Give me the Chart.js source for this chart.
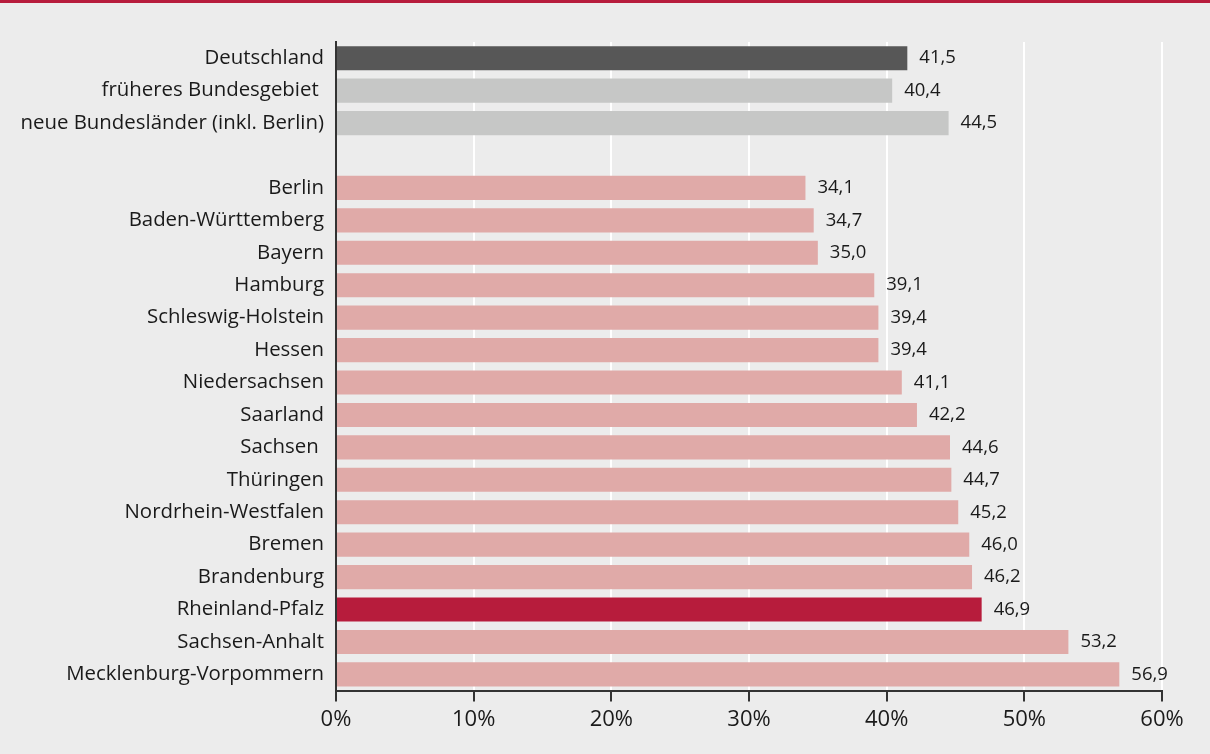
<!DOCTYPE html>
<html lang="de">
<head>
<meta charset="utf-8">
<title>Anteil nach Ländern</title>
<script src="https://cdn.jsdelivr.net/npm/chart.js@4/dist/chart.umd.min.js"></script>
<style>
  html, body { margin: 0; padding: 0; background: #ececec; }
  #wrap { width: 1210px; height: 754px; box-sizing: border-box; border-top: 3px solid #b71c3c; background: #ececec; }
  #chart { display: block; }
</style>
</head>
<body>
<div id="wrap"><canvas id="chart" width="1210" height="751"></canvas></div>
<script>
// Kategorien (leerer Eintrag = Abstand zwischen Bund und Ländern)
const gebiete = [
  "Deutschland",
  "früheres Bundesgebiet ",
  "neue Bundesländer (inkl. Berlin)",
  "",
  "Berlin",
  "Baden-Württemberg",
  "Bayern",
  "Hamburg",
  "Schleswig-Holstein",
  "Hessen",
  "Niedersachsen",
  "Saarland",
  "Sachsen ",
  "Thüringen",
  "Nordrhein-Westfalen",
  "Bremen",
  "Brandenburg",
  "Rheinland-Pfalz",
  "Sachsen-Anhalt",
  "Mecklenburg-Vorpommern"
];

// Werte in Prozent
const anteile = [
  41.5, 40.4, 44.5, null,
  34.1, 34.7, 35.0, 39.1, 39.4, 39.4, 41.1, 42.2,
  44.6, 44.7, 45.2, 46.0, 46.2, 46.9, 53.2, 56.9
];

// Achsenbeschriftung
const xTicks = [0, 10, 20, 30, 40, 50, 60];

// Farbgruppen: bund, west/ost, land, rlp
const gruppen = [
  "bund", "teil", "teil", "leer",
  "land", "land", "land", "land", "land", "land", "land", "land",
  "land", "land", "land", "land", "land", "rlp", "land", "land"
];

const farben = {
  bund: "#575757",
  teil: "#c6c7c6",
  land: "#e0aaa8",
  rlp: "#b71c3c",
  leer: "rgba(0,0,0,0)"
};

const schrift = "'Open Sans', 'Noto Sans', sans-serif";
const textFarbe = "#1a1a1a";

// Wert rechts neben dem Balken, mit Dezimalkomma
const wertLabels = {
  id: "wertLabels",
  afterDatasetsDraw(chart) {
    const ctx = chart.ctx;
    const meta = chart.getDatasetMeta(0);
    ctx.save();
    ctx.font = "18.5px " + schrift;
    ctx.fillStyle = textFarbe;
    ctx.textAlign = "left";
    ctx.textBaseline = "middle";
    meta.data.forEach((bar, i) => {
      const v = anteile[i];
      if (v === null) return;
      ctx.fillText(v.toFixed(1).replace(".", ","), bar.x + 12, bar.y);
    });
    ctx.restore();
  }
};

new Chart(document.getElementById("chart"), {
  type: "bar",
  data: {
    labels: gebiete,
    datasets: [{
      data: anteile,
      backgroundColor: gruppen.map(g => farben[g]),
      borderWidth: 0,
      barPercentage: 0.8,
      categoryPercentage: 0.93
    }]
  },
  options: {
    indexAxis: "y",
    responsive: false,
    animation: false,
    layout: { padding: { top: 39, right: 48, bottom: 16, left: 0 } },
    plugins: {
      legend: { display: false },
      tooltip: { enabled: false }
    },
    scales: {
      x: {
        min: 0,
        max: 60,
        afterBuildTicks: scale => { scale.ticks = xTicks.map(v => ({ value: v })); },
        ticks: {
          callback: v => v + "%",
          color: textFarbe,
          font: { family: schrift, size: 22 },
          padding: 5,
          maxRotation: 0
        },
        grid: {
          color: ctx => (ctx.tick && ctx.tick.value === 0 ? "rgba(0,0,0,0)" : "#ffffff"),
          lineWidth: 2,
          drawTicks: true,
          tickLength: 11,
          tickColor: "#333333",
          tickWidth: 2
        },
        border: { display: true, color: "#333333", width: 2 }
      },
      y: {
        afterFit: scale => { scale.width = 336; },
        ticks: {
          color: textFarbe,
          font: { family: schrift, size: 20.4 },
          padding: 12,
          autoSkip: false
        },
        grid: { display: false, drawTicks: false },
        border: { display: true, color: "#333333", width: 2 }
      }
    }
  },
  plugins: [wertLabels]
});
</script>
</body>
</html>
